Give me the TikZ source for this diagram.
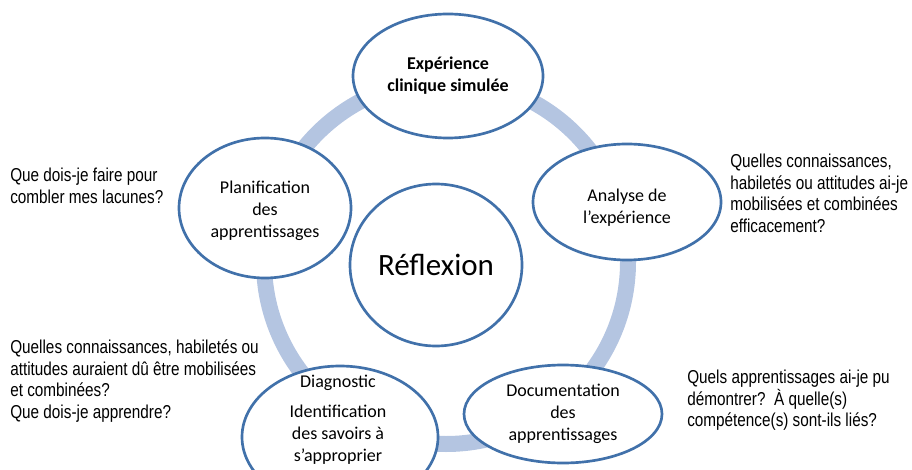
\documentclass[tikz,border=0pt]{standalone}
\usepackage{fontspec}
\setmainfont{Carlito}
\newfontfamily\narrowfont[FakeStretch=0.82]{Liberation Sans}
\usetikzlibrary{shapes.geometric}
\definecolor{ringblue}{RGB}{180,197,225}
\definecolor{edgeblue}{RGB}{65,113,170}
\begin{document}
\begin{tikzpicture}[x=0.75pt,y=-0.75pt,
  stage/.style={ellipse, draw=edgeblue, line width=2pt, fill=white, inner sep=0pt, align=center,
    font=\fontsize{13.5}{16.5}\selectfont},
  stagetext/.style={align=center, inner sep=0pt, font=\fontsize{13.5}{16.5}\selectfont},
  question/.style={anchor=north west, align=left, inner sep=0pt,
    font=\narrowfont\fontsize{14}{16.3}\selectfont},
  ring/.style={draw=ringblue, line width=12pt}]
\useasboundingbox (0,0) rectangle (912,470);
\clip (0,0) rectangle (912,470);
\coordinate (c) at (446,262);
\draw[ring] (c) circle [radius=136.5pt];

\node[stage, minimum width=142.5pt, minimum height=93pt] (exp) at (448,76)
  {\bfseries Expérience\\\bfseries clinique simulée};
\node[stage, minimum width=141pt, minimum height=87pt] (ana) at (627,202) {};
\node[stagetext] (anatxt) at (627,208) {Analyse de\\l’expérience};
\node[stage, minimum width=148.5pt, minimum height=73.5pt] (doc) at (563,414)
  {Documentation\\des\\apprentissages};
\node[stage, minimum width=147pt, minimum height=106.5pt] (diag) at (340,437) {};
\node[stagetext] (diagtxt) at (338,420)
  {Diagnostic\\[6pt]Identification\\des savoirs à\\s’approprier};
\node[stage, minimum width=129pt, minimum height=105pt] (plan) at (265,208) {};
\node[stagetext] (plantxt) at (265,211) {Planification\\des\\apprentissages};
\node[stage, minimum width=129pt, minimum height=121.5pt, font=\fontsize{23.25}{28}\selectfont]
  (refl) at (436,265) {Réflexion};

\node[question] (q1) at (10,168) {Que dois-je faire pour\\combler mes lacunes?};
\node[question] (q2) at (10,339.5) {Quelles connaissances, habiletés ou\\attitudes auraient dû être mobilisées\\et combinées?\\Que dois-je apprendre?};
\node[question] (q3) at (730,153.5) {Quelles connaissances,\\habiletés ou attitudes ai-je\\mobilisées et combinées\\efficacement?};
\node[question] (q4) at (687,369.5) {Quels apprentissages ai-je pu\\démontrer?~~À quelle(s)\\compétence(s) sont-ils liés?};
\end{tikzpicture}
\end{document}
